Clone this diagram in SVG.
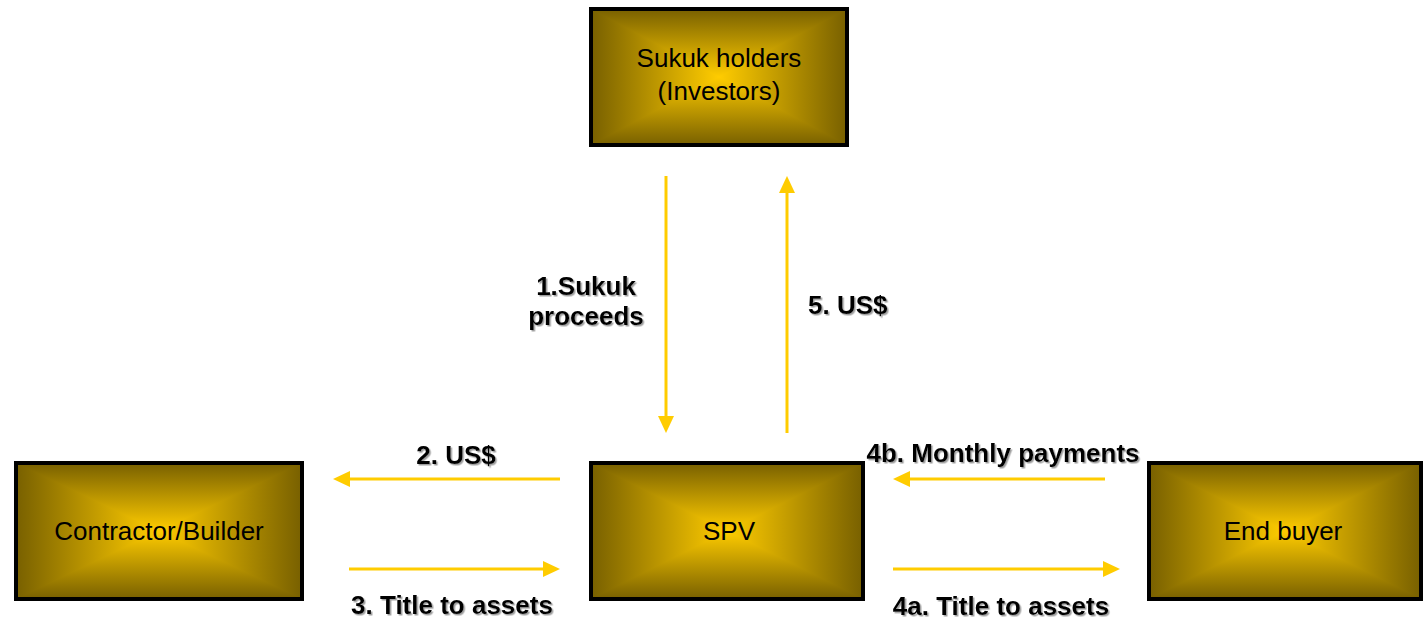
<svg xmlns="http://www.w3.org/2000/svg" width="1426" height="621" viewBox="0 0 1426 621">
<defs>
<linearGradient id="gT" x1="0" y1="0" x2="0" y2="1"><stop offset="0" stop-color="#786000"/><stop offset="1" stop-color="#FFCC00"/></linearGradient>
<linearGradient id="gB" x1="0" y1="1" x2="0" y2="0"><stop offset="0" stop-color="#786000"/><stop offset="1" stop-color="#FFCC00"/></linearGradient>
<linearGradient id="gL" x1="0" y1="0" x2="1" y2="0"><stop offset="0" stop-color="#786000"/><stop offset="1" stop-color="#FFCC00"/></linearGradient>
<linearGradient id="gR" x1="1" y1="0" x2="0" y2="0"><stop offset="0" stop-color="#786000"/><stop offset="1" stop-color="#FFCC00"/></linearGradient>
<marker id="ah" markerUnits="userSpaceOnUse" markerWidth="18" markerHeight="18" refX="10" refY="8" orient="auto">
<path d="M0,0 L17,8 L0,16 z" fill="#FFCC00"/>
</marker>
<filter id="sh" x="-5%" y="-20%" width="110%" height="140%">
<feDropShadow dx="1.5" dy="1.5" stdDeviation="0.6" flood-color="#777" flood-opacity="0.7"/>
</filter>
</defs>
<style>
.frame{fill:none;stroke:#000;stroke-width:4}
.nt{font-family:"Liberation Sans",Arial,sans-serif;font-size:26px;fill:#000;text-anchor:middle}
.lb{font-family:"Liberation Sans",Arial,sans-serif;font-size:26px;font-weight:bold;fill:#000;filter:url(#sh)}
.c{text-anchor:middle}
.ar{stroke:#FFCC00;stroke-width:3;fill:none;marker-end:url(#ah)}
</style>
<rect width="1426" height="621" fill="#fff"/>

<g id="node-sukuk-holders">
<rect x="591" y="9" width="256" height="68" fill="url(#gT)"/>
<rect x="591" y="77" width="256" height="68" fill="url(#gB)"/>
<polygon points="591,9 591,145 719,77" fill="url(#gL)"/>
<polygon points="847,9 847,145 719,77" fill="url(#gR)"/>
<rect class="frame" x="591" y="9" width="256" height="136"/>
<text class="nt" x="719" y="67">Sukuk holders</text>
<text class="nt" x="719" y="100">(Investors)</text>
</g>

<g id="node-contractor">
<rect x="16" y="463" width="286" height="68" fill="url(#gT)"/>
<rect x="16" y="531" width="286" height="68" fill="url(#gB)"/>
<polygon points="16,463 16,599 159,531" fill="url(#gL)"/>
<polygon points="302,463 302,599 159,531" fill="url(#gR)"/>
<rect class="frame" x="16" y="463" width="286" height="136"/>
<text class="nt" x="159" y="540">Contractor/Builder</text>
</g>

<g id="node-spv">
<rect x="591" y="463" width="272" height="68" fill="url(#gT)"/>
<rect x="591" y="531" width="272" height="68" fill="url(#gB)"/>
<polygon points="591,463 591,599 727,531" fill="url(#gL)"/>
<polygon points="863,463 863,599 727,531" fill="url(#gR)"/>
<rect class="frame" x="591" y="463" width="272" height="136"/>
<text class="nt" x="729" y="540">SPV</text>
</g>

<g id="node-end-buyer">
<rect x="1149" y="463" width="272" height="68" fill="url(#gT)"/>
<rect x="1149" y="531" width="272" height="68" fill="url(#gB)"/>
<polygon points="1149,463 1149,599 1285,531" fill="url(#gL)"/>
<polygon points="1421,463 1421,599 1285,531" fill="url(#gR)"/>
<rect class="frame" x="1149" y="463" width="272" height="136"/>
<text class="nt" x="1283" y="540">End buyer</text>
</g>

<g id="connectors">
<line class="ar" x1="666" y1="176" x2="666" y2="426"/>
<line class="ar" x1="787" y1="433" x2="787" y2="183"/>
<line class="ar" x1="560" y1="479" x2="340" y2="479"/>
<line class="ar" x1="349" y1="569" x2="553" y2="569"/>
<line class="ar" x1="1105" y1="479" x2="900" y2="479"/>
<line class="ar" x1="893" y1="569" x2="1113" y2="569"/>
</g>

<g id="labels">
<text class="lb c" x="586" y="295">1.Sukuk</text>
<text class="lb c" x="586" y="325">proceeds</text>
<text class="lb" x="808" y="314">5. US$</text>
<text class="lb c" x="456" y="464">2. US$</text>
<text class="lb c" x="452" y="614">3. Title to assets</text>
<text class="lb c" x="1003" y="462">4b. Monthly payments</text>
<text class="lb c" x="1001" y="615">4a. Title to assets</text>
</g>
</svg>
